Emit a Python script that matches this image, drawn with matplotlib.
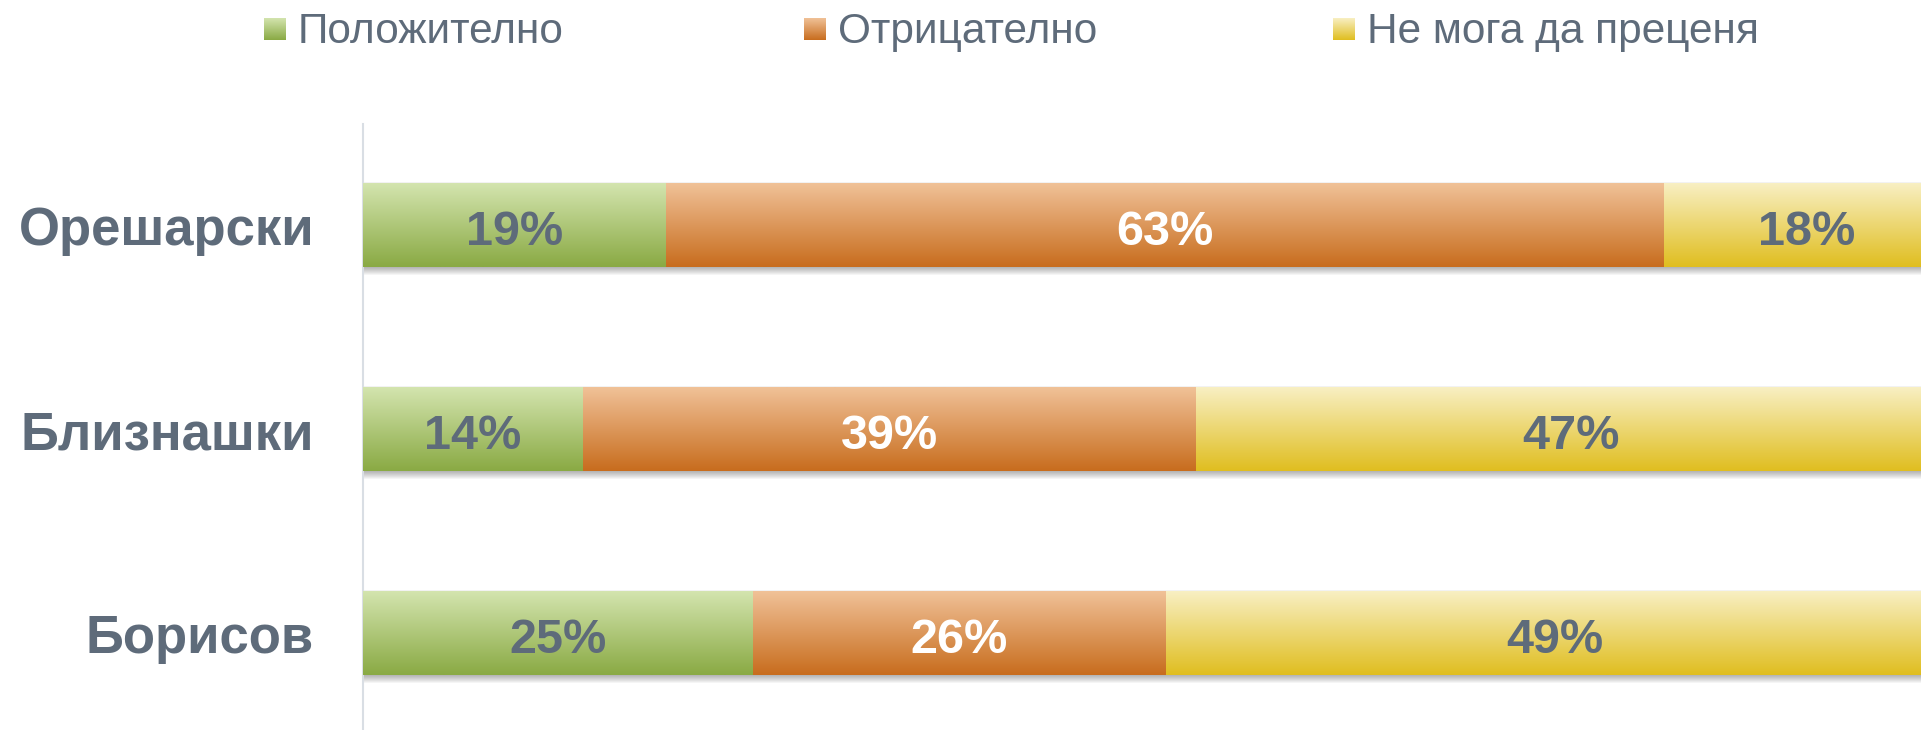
import numpy as np
import matplotlib
matplotlib.use("Agg")
import matplotlib.pyplot as plt
from matplotlib.colors import to_rgb

# Datos (en %)
candidatos = ["Орешарски", "Близнашки", "Борисов"]
series = ["Положително", "Отрицателно", "Не мога да преценя"]
positivo = [19.1, 13.9, 24.6]
negativo = [62.9, 38.6, 26.0]
no_sabe = [18.0, 47.3, 49.0]

# Colores (arriba, abajo) del degradado
grad_colores = [("#d3e4ae", "#8aaa44"), ("#f0c197", "#c86d1e"), ("#f8efc2", "#e0be20")]
color_texto = ["#5e6b7a", "#ffffff", "#5e6b7a"]
gris = "#5e6b7a"

plt.rcParams["font.family"] = ["Liberation Sans", "DejaVu Sans"]

W, H = 1921, 730
fig = plt.figure(figsize=(W / 100, H / 100), dpi=100)
ax = fig.add_axes([362.7 / W, 0, (W - 362.7) / W, (H - 123.5) / H])


def gradiente(c_top, c_bot, n=64):
    t = np.linspace(0, 1, n)[:, None]
    a = np.array(to_rgb(c_top))
    b = np.array(to_rgb(c_bot))
    return (a * (1 - t) + b * t)[:, None, :]


y = np.arange(len(candidatos))
alto = 0.407
valores = [positivo, negativo, no_sabe]
izq = np.zeros(len(candidatos))

# Sombra bajo cada barra
total = np.sum(valores, axis=0) / 100
for d in range(1, 9):
    ax.barh(y + d / 204, total, height=alto, color="black", alpha=0.04, zorder=1, linewidth=0)
ax.barh(y - 1.5 / 204, total, height=alto, color="black", alpha=0.05, zorder=1, linewidth=0)

for i, vals in enumerate(valores):
    v = np.array(vals) / 100
    barras = ax.barh(y, v, left=izq, height=alto, color=grad_colores[i][1], zorder=2, linewidth=0)
    for b, val in zip(barras, vals):
        x0, y0, w, h = b.get_x(), b.get_y(), b.get_width(), b.get_height()
        ax.imshow(gradiente(*grad_colores[i]), extent=(x0, x0 + w, y0 + h, y0), origin="upper",
                  aspect="auto", zorder=3, interpolation="bilinear")
        ax.text(x0 + w / 2, y0 + h / 2 + 0.01, f"{val:.0f}%", ha="center", va="center_baseline",
                fontsize=35, fontweight="bold", color=color_texto[i], zorder=4)
    izq = izq + v

ax.set_xlim(0, (W - 362.7) / 1587)
ax.set_ylim((H - 225.5) / 204, -0.5)
ax.set_yticks(y)
ax.set_yticklabels(candidatos, fontsize=38, fontweight="bold", color=gris)
ax.tick_params(axis="y", length=0, pad=35)
ax.set_xticks([])
for s in ["top", "right", "bottom"]:
    ax.spines[s].set_visible(False)
ax.spines["left"].set_color("#d9dee4")
ax.spines["left"].set_linewidth(1.5)

# Leyenda
ley_x = [264, 804, 1333]
for i, nombre in enumerate(series):
    lax = fig.add_axes([ley_x[i] / W, 1 - 40 / H, 22 / W, 22 / H])
    lax.imshow(gradiente(*grad_colores[i]), aspect="auto", interpolation="bilinear")
    lax.axis("off")
    fig.text((ley_x[i] + 34) / W, 1 - 32 / H, nombre, fontsize=30.5, color=gris, ha="left", va="center")

fig.savefig("out.png", dpi=100)
